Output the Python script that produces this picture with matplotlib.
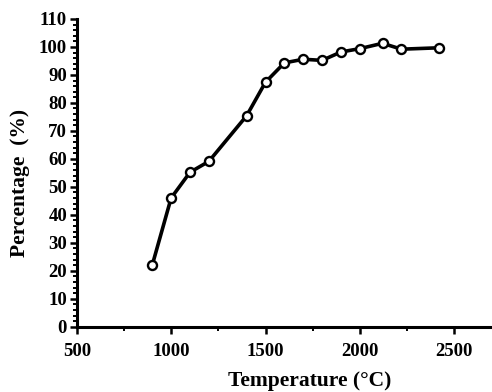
import matplotlib.pyplot as plt
from matplotlib.ticker import MultipleLocator

# data
temperature = [900, 1000, 1100, 1200, 1400, 1500, 1600, 1700, 1800, 1900, 2000, 2120, 2220, 2420]
percentage = [22, 46, 55.2, 59.1, 75.4, 87.4, 94.3, 95.6, 95.2, 98.2, 99.4, 101.3, 99.2, 99.7]

x_ticks = [500, 1000, 1500, 2000, 2500]
y_ticks = list(range(0, 111, 10))

plt.rcParams["font.family"] = ["Liberation Serif", "DejaVu Serif"]
plt.rcParams["font.weight"] = "bold"

fig = plt.figure(figsize=(4.92, 3.92), dpi=100)
ax = fig.add_axes([0.156, 0.1666, 0.844, 0.785])

ax.plot(temperature, percentage, color="black", linewidth=2.6,
        marker="o", markersize=6.5, markerfacecolor="white",
        markeredgecolor="black", markeredgewidth=1.7, zorder=3)

ax.set_xlim(500, 2700)
ax.set_ylim(0, 110)
ax.set_xticks(x_ticks)
ax.set_yticks(y_ticks)
ax.xaxis.set_minor_locator(MultipleLocator(250))
ax.yaxis.set_minor_locator(MultipleLocator(2))

for s in ["top", "right"]:
    ax.spines[s].set_visible(False)
for s in ["left", "bottom"]:
    ax.spines[s].set_linewidth(2.2)

ax.tick_params(axis="both", which="major", direction="out", length=5, width=1.8,
               labelsize=13.5, pad=2)
ax.tick_params(axis="x", which="major", pad=7)
ax.tick_params(axis="both", which="minor", direction="out", length=3, width=1.4)
for lab in ax.get_xticklabels() + ax.get_yticklabels():
    lab.set_fontweight("bold")

ax.set_xlabel("Temperature (°C)", fontsize=15.5, fontweight="bold")
ax.set_ylabel("Percentage  (%)", fontsize=15.5, fontweight="bold")
ax.xaxis.set_label_coords(0.562, -0.145)
ax.yaxis.set_label_coords(-0.112, 0.467)

fig.savefig("out.png", dpi=100)
